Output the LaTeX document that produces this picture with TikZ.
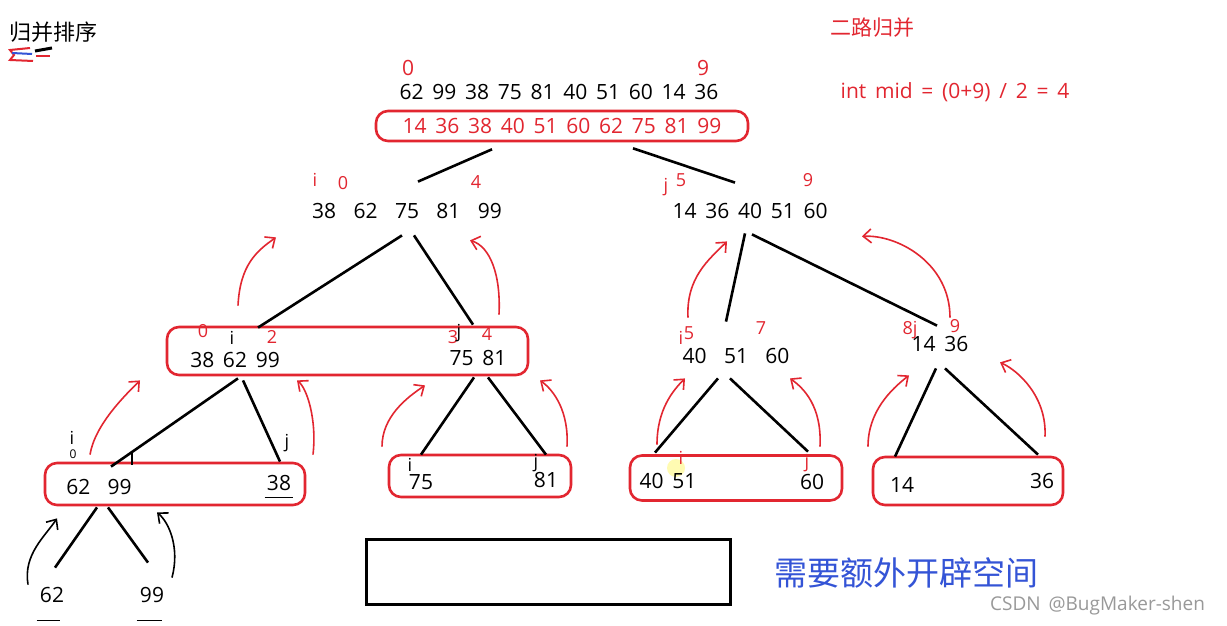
\documentclass[tikz,border=0pt]{standalone}
\usepackage{fontspec}
\setmainfont{Open Sans}[WordSpace=1.6]
\newfontfamily\cjk{Noto Sans CJK SC}
\usetikzlibrary{arrows.meta}
\definecolor{penred}{RGB}{226,38,48}
\definecolor{penblue}{RGB}{52,84,214}

\begin{document}
\begin{tikzpicture}[x=0.5pt,y=-0.5pt,
  num/.style={inner sep=0pt,text height=7.5pt,text depth=0pt,font=\fontsize{10.5}{12}\selectfont},
  idx/.style={inner sep=0pt,text=penred,font=\fontsize{9}{10}\selectfont},
  rbox/.style={draw=penred,line width=1.3pt,rounded corners=6pt,inner sep=0pt},
  edge/.style={line width=1.3pt},
  back/.style={draw=penred,line width=0.8pt,->},
  bback/.style={line width=0.8pt,->},
  >={Straight Barb[length=4pt,width=7pt]}]
\useasboundingbox (0,0) rectangle (1227,626);
\fill[white] (0,0) rectangle (1227,626);

% headings
\node[font=\cjk\fontsize{11}{13}\selectfont] (title) at (54,32) {归并排序};
\draw[penred,line width=1pt] (30,48) -- (10,50) -- (14,55) -- (10,60) -- (33,61);
\draw[penblue,line width=1pt] (12,53) -- (32,54);
\draw[line width=1.5pt] (35,51) -- (52,48);
\draw[penred,line width=1pt] (36,56) -- (50,56);
\node[font=\cjk\fontsize{10.5}{12}\selectfont,text=penred] (way) at (872,28) {二路归并};
\node[font=\fontsize{10.5}{12}\selectfont,text=penred] (mid) at (955,92) {int mid = (0+9) / 2 = 4};

% level 1
\node[num,text=penred] (lo) at (408,68) {0};
\node[num,text=penred] (hi) at (703,68) {9};
\node[num] (all) at (559,92) {62 99 38 75 81 40 51 60 14 36};
\node[rbox,num,text=penred,minimum width=186pt,minimum height=15pt] (sorted) at (562,126) {14 36 38 40 51 60 62 75 81 99};

% level 2
\node[num] (la) at (407,211) {38~~62~~75~~81~~99};
\node[num] (ra) at (750,211) {14 36 40 51 60};
\node[idx] at (315,180) {i};
\node[idx] at (343,183) {0};
\node[idx] at (476,182) {4};
\node[idx] at (666,187) {j};
\node[idx] at (681,180) {5};
\node[idx] at (808,180) {9};

% level 3
\node[rbox,minimum width=180.5pt,minimum height=24pt] (lbox) at (347.5,351) {};
\node[num] (lb) at (235,360) {38 62 99};
\node[num] (lc) at (478,358) {75 81};
\node[num] (rb) at (736,356) {40~~51~~60};
\node[num] (rc) at (940,344) {14 36};
\node[idx] at (203,331) {0};
\node[idx,text=black] at (232,338) {i};
\node[idx] at (272,337) {2};
\node[idx] at (453,337) {3};
\node[idx,text=black] at (459,333) {j};
\node[idx] at (487,334) {4};
\node[idx] at (681,338) {i};
\node[idx] at (689,333) {5};
\node[idx] at (761,328) {7};
\node[idx] at (910,330) {8j};
\node[idx] at (955,326) {9};

% level 4
\node[rbox,minimum width=130pt,minimum height=21pt] (b1) at (175,484) {};
\node[rbox,minimum width=91pt,minimum height=21pt] (b2) at (480,476) {};
\node[rbox,minimum width=106pt,minimum height=22.5pt] (b3) at (736,478) {};
\node[rbox,minimum width=95pt,minimum height=24pt] (b4) at (968,481) {};
\fill[yellow,opacity=0.3] (676,468) circle (9);
\node[num] (n6299) at (99,487) {62~~99};
\node[num] (n38) at (279,483) {38};
\node[num] (n75) at (421,482) {75};
\node[num] (n81) at (546,480) {81};
\node[num] (n4051) at (668,481) {40 51};
\node[num] (n60) at (812,482) {60};
\node[num] (n14) at (902,485) {14};
\node[num] (n36) at (1042,481) {36};
\draw[line width=0.9pt] ([shift={(-2,6.5)}]n38.south west) -- ([shift={(2,6.5)}]n38.south east);
\node[idx,text=black] at (72,438) {i};
\node[idx,text=black,font=\fontsize{6}{7}\selectfont] at (73,454) {0};
\node[idx,text=black] at (287,443) {j};
\node[idx,text=black] at (410,465) {i};
\node[idx,text=black] at (536,463) {j};
\node[idx] at (681,458) {i};
\node[idx] at (807,463) {j};

% level 5
\node[num] (n62) at (52,595) {62};
\node[num] (n99) at (152,595) {99};
\draw[line width=0.9pt] ([shift={(-3,17.5)}]n62.south west) -- ([shift={(-4,17.5)}]n62.south east);
\draw[line width=0.9pt] ([shift={(-3,17.5)}]n99.south west) -- ([shift={(-2,17.5)}]n99.south east);

% splitting lines
\draw[edge] ([shift={(-70,7)}]sorted.south) -- ([shift={(11,-21.5)}]la.north);
\draw[edge] ([shift={(71,6)}]sorted.south) -- ([shift={(-15,-20.5)}]ra.north);
\draw[edge] ([shift={(-5,16.5)}]la.south) -- ([shift={(23,-24.5)}]lb.north);
\draw[edge] ([shift={(7,16.5)}]la.south) -- ([shift={(-5,-25.5)}]lc.north);
\draw[edge] ([shift={(-5,14.5)}]ra.south) -- ([shift={(-10,-26.5)}]rb.north);
\draw[edge] ([shift={(2,15.5)}]ra.south) -- ([shift={(-3,-10.5)}]rc.north);
\draw[edge] ([shift={(3,10.5)}]lb.south) -- coordinate[pos=0.835] (tick) ([shift={(12,-12.5)}]n6299.north);
\draw[line width=1pt] (tick) -- ++(0,13);
\draw[edge] ([shift={(8,12.5)}]lb.south) -- ([shift={(1,-13.5)}]n38.north);
\draw[edge] ([shift={(-4,11.5)}]lc.south) -- ([shift={(0,-19.5)}]n75.north);
\draw[edge] ([shift={(10,11.5)}]lc.south) -- ([shift={(0,-17.5)}]n81.north);
\draw[edge] ([shift={(-18,14.5)}]rb.south) -- ([shift={(-13,-20.5)}]n4051.north);
\draw[edge] ([shift={(-6,14.5)}]rb.south) -- ([shift={(-4,-22.5)}]n60.north);
\draw[edge] ([shift={(-4,16.5)}]rc.south) -- ([shift={(-7,-20.5)}]n14.north);
\draw[edge] ([shift={(5,16.5)}]rc.south) -- ([shift={(-4,-18.5)}]n36.north);
\draw[edge] ([shift={(-2,12.5)}]n6299.south) -- ([shift={(3,-19.5)}]n62.north);
\draw[edge] ([shift={(9,12.5)}]n6299.south) -- ([shift={(-4,-24.5)}]n99.north);

% merging arrows
\draw[back] ([shift={(3,-46.5)}]lb.north) .. controls +(2,-40) and +(-20,14) .. ([shift={(-131,18.5)}]la.south);
\draw[back] ([shift={(21,-35.5)}]lc.north) .. controls +(2,-40) and +(20,6) .. ([shift={(63,21.5)}]la.south);
\draw[back] ([shift={(-48,-30.5)}]rb.north) .. controls +(-2,-40) and +(-18,18) .. ([shift={(-23,22.5)}]ra.south);
\draw[back] ([shift={(10,-18.5)}]rc.north) .. controls +(0,-55) and +(35,-2) .. ([shift={(112,17.5)}]ra.south);
\draw[back] ([shift={(-9,-24.5)}]n6299.north) .. controls +(5,-30) and +(-15,15) .. ([shift={(-95,12.5)}]lb.south);
\draw[back] ([shift={(34,-20.5)}]n38.north) .. controls +(4,-35) and +(10,8) .. ([shift={(62,12.5)}]lb.south);
\draw[back] ([shift={(-39,-27.5)}]n75.north) .. controls +(0,-30) and +(-18,12) .. ([shift={(-53,19.5)}]lc.south);
\draw[back] ([shift={(21,-25.5)}]n81.north) .. controls +(2,-35) and +(14,10) .. ([shift={(62,14.5)}]lc.south);
\draw[back] ([shift={(-11,-28.5)}]n4051.north) .. controls +(0,-35) and +(-12,12) .. ([shift={(-51,14.5)}]rb.south);
\draw[back] ([shift={(8,-27.5)}]n60.north) .. controls +(2,-40) and +(14,10) .. ([shift={(54,14.5)}]rb.south);
\draw[back] ([shift={(-34,-30.5)}]n14.north) .. controls +(0,-35) and +(-18,14) .. ([shift={(-31,23.5)}]rc.south);
\draw[back] ([shift={(3,-36.5)}]n36.north) .. controls +(2,-40) and +(18,8) .. ([shift={(60,10.5)}]rc.south);
\draw[bback] ([shift={(-24,-2.5)}]n62.north) .. controls +(-5,-30) and +(-12,18) .. ([shift={(-42,23.5)}]n6299.south);
\draw[bback] ([shift={(20,-9.5)}]n99.north) .. controls +(8,-30) and +(12,10) .. ([shift={(58,17.5)}]n6299.south);

% extra space
\node[draw,line width=1.5pt,inner sep=0pt,minimum width=182pt,minimum height=32.5pt] (buf) at (548,571.5) {};
\node[font=\cjk\fontsize{16.5}{18}\selectfont,text=penblue] (note) at (906,573) {需要额外开辟空间};
\node[font=\fontsize{9.5}{11}\selectfont,text=black!40,anchor=east] (mark) at (1212,606) {CSDN @BugMaker-shen};
\end{tikzpicture}
\end{document}
